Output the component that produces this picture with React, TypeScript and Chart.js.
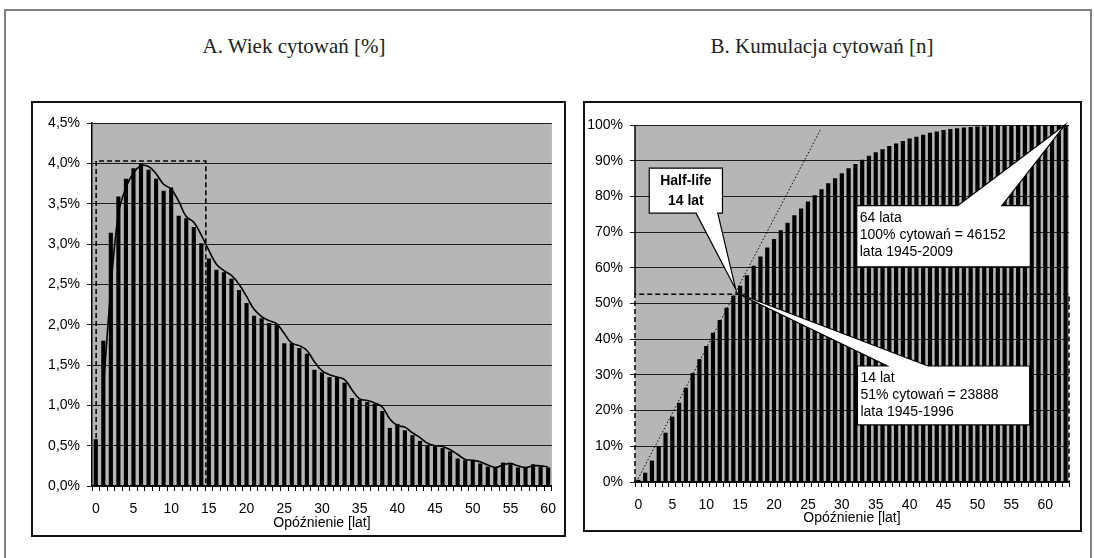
import { useEffect, useRef } from 'react';
import { Chart, registerables } from 'chart.js';

Chart.register(...registerables);

// ---------- data ----------
const delayLabelsA: string[] = Array.from({ length: 61 }, (_, i) => String(i));
const delayLabelsB: string[] = Array.from({ length: 64 }, (_, i) => String(i));

// A. age of citations [%] per delay year
const citationAgePct: number[] = [
  0.58, 1.8, 3.14, 3.59, 3.81, 3.94, 4.0, 3.92, 3.81, 3.66,
  3.7, 3.35, 3.32, 3.21, 3.01, 2.82, 2.68, 2.65, 2.57, 2.43,
  2.27, 2.11, 2.08, 2.02, 2.0, 1.77, 1.77, 1.71, 1.64, 1.44,
  1.41, 1.35, 1.35, 1.28, 1.09, 1.07, 1.04, 1.02, 0.93, 0.72,
  0.77, 0.69, 0.63, 0.56, 0.5, 0.5, 0.47, 0.43, 0.34, 0.32,
  0.32, 0.28, 0.24, 0.23, 0.29, 0.27, 0.23, 0.23, 0.27, 0.24, 0.23,
];

// A. smoothed trend line
const citationAgeTrend: (number | null)[] = [
  null, 1.2, 2.45, 3.37, 3.7, 3.88, 3.97, 3.96, 3.87, 3.74,
  3.68, 3.53, 3.34, 3.27, 3.11, 2.92, 2.75, 2.67, 2.61, 2.5,
  2.35, 2.19, 2.1, 2.05, 2.01, 1.89, 1.77, 1.74, 1.68, 1.54,
  1.43, 1.38, 1.35, 1.32, 1.19, 1.08, 1.06, 1.03, 0.98, 0.83,
  0.75, 0.73, 0.66, 0.6, 0.53, 0.5, 0.49, 0.45, 0.39, 0.33,
  0.32, 0.3, 0.26, 0.23, 0.26, 0.28, 0.25, 0.23, 0.25, 0.25, 0.235,
];

// B. cumulative citations [%]
const cumulativePct: number[] = [
  0.6, 2.6, 6.0, 10.0, 13.8, 18.3, 22.2, 26.4, 30.5, 34.4,
  38.1, 41.8, 45.4, 48.8, 52.2, 55.0, 57.9, 60.6, 63.2, 65.7,
  68.1, 70.5, 72.6, 74.7, 76.6, 78.6, 80.3, 82.0, 83.7, 85.1,
  86.5, 87.9, 89.1, 90.3, 91.4, 92.4, 93.2, 94.1, 94.8, 95.5,
  96.2, 96.7, 97.3, 97.8, 98.2, 98.6, 98.9, 99.1, 99.3, 99.45,
  99.55, 99.65, 99.72, 99.78, 99.83, 99.87, 99.9, 99.93, 99.95, 99.97,
  99.98, 99.99, 100, 100,
];

const yTickLabelsA: string[] = ['0,0%', '0,5%', '1,0%', '1,5%', '2,0%', '2,5%', '3,0%', '3,5%', '4,0%', '4,5%'];
const yTickLabelsB: string[] = ['0%', '10%', '20%', '30%', '40%', '50%', '60%', '70%', '80%', '90%', '100%'];

// annotation values (data units)
const windowA = { from: 0.05, to: 14.6, top: 4.03 };
const halfLifeLevel = 52.6;
const guideLine = { x0: -0.3, y0: 0, x1: 26.8, y1: 98.5 };

const callouts = [
  { lines: ['Half-life', '14 lat'], bold: true, center: true, box: [1.6, 12.4, 87.9, 75.3], side: 'bottom', base: [8.5, 11.7], tip: [14.35, 54.0] },
  { lines: ['64 lata', '100% cytowań = 46152', 'lata 1945-2009'], bold: false, center: false, box: [32.2, 57.8, 77.4, 60.3], side: 'top', base: [47.1, 53.6], tip: [62.9, 100] },
  { lines: ['14 lat', '51% cytowań = 23888', 'lata 1945-1996'], bold: false, center: false, box: [32.3, 57.7, 32.5, 16.0], side: 'top', base: [36.7, 42.7], tip: [14.4, 53.0] },
];

// ---------- styling ----------
const SANS = "'Liberation Sans', Arial, sans-serif";
const SERIF = "'Liberation Serif', 'DejaVu Serif', serif";
const PLOT_BG = 'rgb(180,182,183)';
const GRID = '#1e1e1e';

const bgPlugin = {
  id: 'plotBg',
  beforeDraw(chart: any) {
    const { ctx, chartArea: a } = chart;
    ctx.save();
    ctx.fillStyle = PLOT_BG;
    ctx.fillRect(a.left, a.top, a.right - a.left, a.bottom - a.top);
    ctx.restore();
  },
};

const windowPlugin = {
  id: 'windowA',
  afterDatasetsDraw(chart: any) {
    const { ctx } = chart;
    const xs = chart.scales.x, ys = chart.scales.y;
    const x0 = xs.getPixelForValue(windowA.from);
    const x1 = xs.getPixelForValue(windowA.to);
    const yt = ys.getPixelForValue(windowA.top);
    const yb = ys.getPixelForValue(0);
    ctx.save();
    ctx.strokeStyle = '#000';
    ctx.lineWidth = 1.5;
    ctx.setLineDash([5, 3]);
    ctx.beginPath();
    ctx.moveTo(x0, yb);
    ctx.lineTo(x0, yt);
    ctx.lineTo(x1, yt);
    ctx.lineTo(x1, yb);
    ctx.stroke();
    ctx.restore();
  },
};

const annotPluginB = {
  id: 'annotB',
  afterDraw(chart: any) {
    const { ctx, chartArea: a } = chart;
    const xs = chart.scales.x, ys = chart.scales.y;
    ctx.save();
    // dotted guide line
    ctx.strokeStyle = '#000';
    ctx.lineWidth = 1;
    ctx.setLineDash([1.5, 2]);
    ctx.beginPath();
    ctx.moveTo(xs.getPixelForValue(guideLine.x0), ys.getPixelForValue(guideLine.y0));
    ctx.lineTo(xs.getPixelForValue(guideLine.x1), ys.getPixelForValue(guideLine.y1));
    ctx.stroke();
    // y axis line: solid above half-life level
    const yh = ys.getPixelForValue(halfLifeLevel);
    ctx.setLineDash([]);
    ctx.lineWidth = 1.5;
    ctx.beginPath();
    ctx.moveTo(a.left, a.top);
    ctx.lineTo(a.left, yh);
    ctx.stroke();
    // dashed half-life frame
    ctx.setLineDash([5, 3]);
    ctx.beginPath();
    ctx.moveTo(a.left, a.bottom);
    ctx.lineTo(a.left, yh);
    ctx.lineTo(a.right, yh);
    ctx.lineTo(a.right, a.bottom);
    ctx.stroke();
    ctx.setLineDash([]);

    // callouts
    for (const c of callouts) {
      const L = xs.getPixelForValue(c.box[0]);
      const R = xs.getPixelForValue(c.box[1]);
      const T = ys.getPixelForValue(c.box[2]);
      const B = ys.getPixelForValue(c.box[3]);
      const b0 = xs.getPixelForValue(c.base[0]);
      const b1 = xs.getPixelForValue(c.base[1]);
      const tx = xs.getPixelForValue(c.tip[0]);
      const ty = ys.getPixelForValue(c.tip[1]);
      ctx.beginPath();
      ctx.moveTo(L, T);
      if (c.side === 'top') {
        ctx.lineTo(b0, T);
        ctx.lineTo(tx, ty);
        ctx.lineTo(b1, T);
      }
      ctx.lineTo(R, T);
      ctx.lineTo(R, B);
      if (c.side === 'bottom') {
        ctx.lineTo(b1, B);
        ctx.lineTo(tx, ty);
        ctx.lineTo(b0, B);
      }
      ctx.lineTo(L, B);
      ctx.closePath();
      ctx.fillStyle = '#fff';
      ctx.fill();
      ctx.lineWidth = 1.2;
      ctx.strokeStyle = '#000';
      ctx.stroke();

      ctx.fillStyle = '#000';
      ctx.font = `${c.bold ? 'bold ' : ''}14px ${SANS}`;
      ctx.textBaseline = 'middle';
      ctx.textAlign = c.center ? 'center' : 'left';
      const step = c.center ? 20 : 17;
      c.lines.forEach((ln, i) => {
        const x = c.center ? (L + R) / 2 : L + 3;
        ctx.fillText(ln, x, T + 12.5 + step * i);
      });
    }
    ctx.restore();
  },
};

function xScale(labels: string[], height: number) {
  return {
    grid: { display: true, drawOnChartArea: false, drawTicks: true, tickLength: 5, offset: true, color: '#000', lineWidth: 1 },
    border: { display: true, color: '#000', width: 1.5 },
    ticks: {
      autoSkip: false, maxRotation: 0, minRotation: 0, padding: 10, color: '#000',
      font: { family: SANS, size: 14 },
      callback: (_v: any, i: number) => (i % 5 === 0 ? labels[i] : ''),
    },
    title: { display: true, text: 'Opóźnienie [lat]', color: '#000', font: { family: SANS, size: 14 }, padding: { top: 0, bottom: 5.6 } },
    afterFit: (s: any) => { s.height = height; },
  };
}

function configA(): any {
  return {
    type: 'bar',
    data: {
      labels: delayLabelsA,
      datasets: [
        { type: 'line', data: citationAgeTrend, borderColor: '#000', borderWidth: 1.6, pointRadius: 0, tension: 0.4, fill: false, order: 0 },
        { type: 'bar', data: citationAgePct, backgroundColor: '#000', barPercentage: 0.55, categoryPercentage: 1, order: 1 },
      ],
    },
    options: {
      responsive: false, animation: false, devicePixelRatio: 1,
      layout: { padding: { left: 0, top: 22, right: 10, bottom: 0 } },
      plugins: { legend: { display: false }, tooltip: { enabled: false } },
      scales: {
        x: xScale(delayLabelsA, 51),
        y: {
          min: 0, max: 4.5,
          ticks: { stepSize: 0.5, padding: 7, color: '#000', font: { family: SANS, size: 14 }, callback: (v: number) => yTickLabelsA[Math.round(v / 0.5)] },
          grid: { color: GRID, lineWidth: 1, tickLength: 5, drawTicks: true },
          border: { display: true, color: '#000', width: 1.5 },
          afterFit: (s: any) => { s.width = 61; },
        },
      },
    },
    plugins: [bgPlugin, windowPlugin],
  };
}

function configB(): any {
  return {
    type: 'bar',
    data: {
      labels: delayLabelsB,
      datasets: [
        { data: cumulativePct, backgroundColor: '#000', barPercentage: 0.62, categoryPercentage: 1 },
      ],
    },
    options: {
      responsive: false, animation: false, devicePixelRatio: 1,
      layout: { padding: { left: 0, top: 24, right: 13, bottom: 0 } },
      plugins: { legend: { display: false }, tooltip: { enabled: false } },
      scales: {
        x: xScale(delayLabelsB, 50),
        y: {
          min: 0, max: 100,
          ticks: { stepSize: 10, padding: 7, color: '#000', font: { family: SANS, size: 14 }, callback: (v: number) => yTickLabelsB[Math.round(v / 10)] },
          grid: { color: GRID, lineWidth: 1, tickLength: 5, drawTicks: true },
          border: { display: false },
          afterFit: (s: any) => { s.width = 52; },
        },
      },
    },
    plugins: [bgPlugin, annotPluginB],
  };
}

function ChartBox({ left, top, width, height, make }: any) {
  const ref = useRef<HTMLCanvasElement | null>(null);
  useEffect(() => {
    const chart = new Chart(ref.current as HTMLCanvasElement, make());
    return () => chart.destroy();
  }, []);
  return (
    <div style={{ position: 'absolute', left, top, width, height }}>
      <div style={{ position: 'absolute', left: 0, top: 0, width, height, boxSizing: 'border-box', border: '2px solid #111' }} />
      <canvas ref={ref} width={width} height={height} style={{ position: 'absolute', left: 0, top: 0, width, height }} />
    </div>
  );
}

export default function App() {
  const titleStyle: any = {
    position: 'absolute', top: 32, width: 400, textAlign: 'center',
    fontFamily: SERIF, fontSize: 21, color: '#222', lineHeight: '28px',
  };
  return (
    <div style={{ position: 'absolute', left: 0, top: 0, width: 1094, height: 558, overflow: 'hidden', background: '#fff' }}>
      <div style={{ position: 'absolute', left: 4, top: 9, width: 1088, height: 600, boxSizing: 'border-box', border: '2.5px solid #808080' }} />
      <div style={{ ...titleStyle, left: 294 - 200 }}>A. Wiek cytowań [%]</div>
      <div style={{ ...titleStyle, left: 822 - 200 }}>B. Kumulacja cytowań [n]</div>
      <ChartBox left={31} top={101} width={535} height={436} make={configA} />
      <ChartBox left={583} top={101} width={499} height={431} make={configB} />
    </div>
  );
}
